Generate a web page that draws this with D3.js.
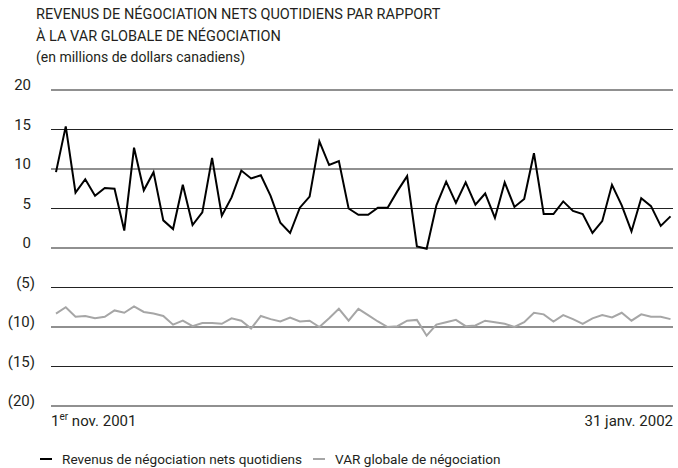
<!DOCTYPE html>
<html>
<head>
<meta charset="utf-8">
<script src="https://cdn.jsdelivr.net/npm/d3@7"></script>
<style>
  body { margin: 0; background: #fff; }
  svg text { font-family: Roboto, "Liberation Sans", sans-serif; fill: #231f20; }
</style>
</head>
<body>
<div id="container"></div>
<script>
// daily values, 1 nov. 2001 -> 31 janv. 2002 (en millions $ CA)
var revenus = [9.6, 15.4, 7.0, 8.7, 6.6, 7.6, 7.5, 2.2, 12.7, 7.3, 9.6, 3.5, 2.4, 8.0, 2.9, 4.5,
               11.4, 4.1, 6.4, 9.8, 8.8, 9.2, 6.6, 3.2, 1.9, 5.1, 6.5, 13.5, 10.5, 11.0, 5.0, 4.2,
               4.2, 5.1, 5.1, 7.2, 9.1, 0.2, -0.1, 5.4, 8.4, 5.7, 8.3, 5.5, 6.9, 3.8, 8.3, 5.2,
               6.2, 12.0, 4.3, 4.3, 5.9, 4.7, 4.3, 1.9, 3.4, 8.0, 5.4, 2.1, 6.3, 5.3, 2.8, 4.0];
var varGlobale = [-8.3, -7.5, -8.7, -8.6, -8.9, -8.7, -7.9, -8.2, -7.4, -8.1, -8.3, -8.6, -9.7, -9.2, -9.9, -9.5,
                  -9.5, -9.6, -8.9, -9.2, -10.2, -8.6, -9.0, -9.3, -8.8, -9.3, -9.2, -10.0, -8.9, -7.7, -9.2, -7.7,
                  -8.5, -9.3, -10.0, -9.9, -9.2, -9.1, -11.1, -9.7, -9.4, -9.1, -9.9, -9.8, -9.2, -9.4,
                  -9.6, -10.0, -9.4, -8.2, -8.4, -9.3, -8.5, -9.0, -9.6, -8.9, -8.5, -8.8, -8.2, -9.2,
                  -8.4, -8.7, -8.7, -9.0];
var yTicks = [20, 15, 10, 5, 0, -5, -10, -15, -20];
var titleLines = ["REVENUS DE NÉGOCIATION NETS QUOTIDIENS PAR RAPPORT",
                  "À LA VAR GLOBALE DE NÉGOCIATION",
                  "(en millions de dollars canadiens)"];
var legendLabels = ["Revenus de négociation nets quotidiens", "VAR globale de négociation"];
var legendColors = ["#000000", "#a6a6a6"];

var width = 678, height = 468;
var svg = d3.select("#container").append("svg")
    .attr("width", width)
    .attr("height", height);

var x = d3.scaleLinear().domain([0, revenus.length - 1]).range([56, 670.5]);
var y = d3.scaleLinear().domain([-20, 20]).range([406, 90]);

// title
svg.selectAll("text.title")
    .data(titleLines)
    .enter().append("text")
    .attr("class", "title")
    .attr("x", 36)
    .attr("y", function(d, i) { return 19 + i * 21.5; })
    .style("font-size", function(d, i) { return i < 2 ? "14.5px" : "14px"; })
    .text(function(d) { return d; });

// gridlines + labels
var grid = svg.append("g").attr("class", "grid");
grid.selectAll("line")
    .data(yTicks)
    .enter().append("line")
    .attr("x1", 51).attr("x2", 673)
    .attr("y1", function(d) { return y(d); })
    .attr("y2", function(d) { return y(d); })
    .style("stroke", "#222")
    .style("stroke-width", 1.2);

grid.selectAll("text")
    .data(yTicks)
    .enter().append("text")
    .attr("x", function(d) { return d < 0 ? 35 : 31; })
    .attr("y", function(d) { return y(d); })
    .attr("text-anchor", "end")
    .style("font-size", "15px")
    .text(function(d) { return d < 0 ? "(" + (-d) + ")" : d; });

// x labels
var xl = svg.append("text")
    .attr("x", 51).attr("y", 426)
    .style("font-size", "15px");
xl.append("tspan").text("1");
xl.append("tspan").attr("dy", -6).style("font-size", "10px").text("er");
xl.append("tspan").attr("dy", 6).text(" nov. 2001");

svg.append("text")
    .attr("x", 673).attr("y", 426)
    .attr("text-anchor", "end")
    .style("font-size", "15px")
    .text("31 janv. 2002");

// series
var line = d3.line()
    .x(function(d, i) { return x(i); })
    .y(function(d) { return y(d); });

svg.append("path")
    .datum(varGlobale)
    .attr("d", line)
    .style("fill", "none")
    .style("stroke", legendColors[1])
    .style("stroke-width", 2);

svg.append("path")
    .datum(revenus)
    .attr("d", line)
    .style("fill", "none")
    .style("stroke", legendColors[0])
    .style("stroke-width", 2);

// legend
var legend = svg.selectAll("g.legend")
    .data(legendLabels)
    .enter().append("g")
    .attr("class", "legend")
    .attr("transform", function(d, i) { return "translate(" + (i ? 313 : 40) + ",459)"; });

legend.append("line")
    .attr("x1", 0).attr("x2", 12)
    .attr("y1", 0).attr("y2", 0)
    .style("stroke", function(d, i) { return legendColors[i]; })
    .style("stroke-width", 2);

legend.append("text")
    .attr("x", 22).attr("y", 5)
    .style("font-size", "13.6px")
    .text(function(d) { return d; });
</script>
</body>
</html>
